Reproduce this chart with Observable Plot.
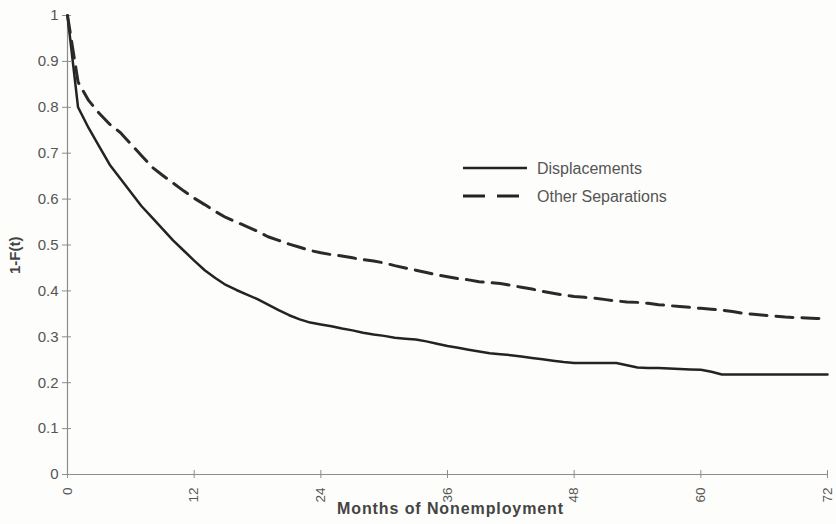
<!DOCTYPE html>
<html>
<head>
<meta charset="utf-8">
<script src="https://cdn.jsdelivr.net/npm/d3@7"></script>
<script src="https://cdn.jsdelivr.net/npm/@observablehq/plot@0.6"></script>
<style>
  html, body { margin: 0; padding: 0; background: #fdfdfb; }
  #chart { position: relative; width: 836px; height: 524px; }
</style>
</head>
<body>
<div id="chart"></div>
<script>
// Months of nonemployment
const months = [0,1,2,3,4,5,6,7,8,9,10,11,12,13,14,15,16,17,18,19,20,21,22,23,24,25,26,27,28,29,30,31,32,33,34,35,36,37,38,39,40,41,42,43,44,45,46,47,48,49,50,51,52,53,54,55,56,57,58,59,60,61,62,63,64,65,66,67,68,69,70,71,72];

// 1-F(t) for Displacements (solid)
const displacements = [1.0,0.80,0.755,0.715,0.675,0.645,0.615,0.585,0.56,0.535,0.51,0.488,0.466,0.445,0.428,0.413,0.402,0.392,0.382,0.37,0.358,0.347,0.338,0.331,0.327,0.323,0.318,0.314,0.309,0.305,0.302,0.298,0.296,0.294,0.29,0.285,0.28,0.276,0.272,0.268,0.264,0.262,0.26,0.257,0.254,0.251,0.248,0.245,0.243,0.243,0.243,0.243,0.243,0.238,0.233,0.232,0.232,0.231,0.23,0.229,0.228,0.224,0.218,0.218,0.218,0.218,0.218,0.218,0.218,0.218,0.218,0.218,0.218];

// 1-F(t) for Other Separations (dashed)
const otherSeparations = [1.0,0.855,0.815,0.787,0.763,0.745,0.72,0.695,0.67,0.652,0.635,0.618,0.602,0.588,0.573,0.56,0.55,0.54,0.53,0.518,0.51,0.502,0.495,0.488,0.483,0.479,0.476,0.472,0.468,0.465,0.461,0.455,0.45,0.445,0.44,0.435,0.431,0.427,0.424,0.42,0.418,0.416,0.412,0.408,0.404,0.399,0.395,0.391,0.388,0.386,0.384,0.381,0.378,0.376,0.375,0.373,0.37,0.368,0.366,0.364,0.362,0.36,0.358,0.355,0.351,0.349,0.347,0.345,0.343,0.342,0.341,0.34,0.339];

const seriesNames = ["Displacements", "Other Separations"];
const xTicks = [0, 12, 24, 36, 48, 60, 72];
const yTicks = [0, 0.1, 0.2, 0.3, 0.4, 0.5, 0.6, 0.7, 0.8, 0.9, 1];
const yTickLabels = ["0", "0.1", "0.2", "0.3", "0.4", "0.5", "0.6", "0.7", "0.8", "0.9", "1"];
const xTitle = "Months of Nonemployment";
const yTitle = "1-F(t)";

const dispData = months.map((m, i) => ({month: m, value: displacements[i]}));
const otherData = months.map((m, i) => ({month: m, value: otherSeparations[i]}));

const font = "'Liberation Sans', Arial, Helvetica, sans-serif";
const axisColor = "#8c8c8c";
const textColor = "#555";

const chart = Plot.plot({
  width: 836,
  height: 524,
  marginLeft: 67,
  marginRight: 9,
  marginTop: 15,
  marginBottom: 50,
  style: {background: "#fdfdfb", fontFamily: font, color: textColor, overflow: "visible"},
  x: {domain: [0, 72]},
  y: {domain: [0, 1]},
  marks: [
    Plot.ruleX([0], {stroke: axisColor, strokeWidth: 1.2}),
    Plot.ruleY([0], {stroke: axisColor, strokeWidth: 1.2}),
    Plot.axisY({
      ticks: yTicks, tickSize: 9, dx: 4, tickPadding: 4,
      tickFormat: d => yTickLabels[yTicks.indexOf(d)],
      fontSize: 15, stroke: axisColor, fill: textColor, label: null
    }),
    Plot.axisX({
      ticks: xTicks, tickSize: 8, dy: -4, tickPadding: 9, tickRotate: -90,
      tickFormat: d => String(d),
      fontSize: 13.5, stroke: axisColor, fill: textColor, label: null
    }),
    Plot.line(dispData, {x: "month", y: "value", stroke: "#232323", strokeWidth: 2.5}),
    Plot.line(otherData, {x: "month", y: "value", stroke: "#2a2a2a", strokeWidth: 3, strokeDasharray: "17,9"}),
    Plot.text([yTitle], {text: d => d, frameAnchor: "left", rotate: -90, dx: -52, dy: 29, fontSize: 15, fontWeight: "bold", fill: "#444"}),
    Plot.text([xTitle], {text: d => d, frameAnchor: "bottom", dx: 3, dy: 39, fontSize: 16, fontWeight: "bold", fill: "#444"})
  ]
});

document.getElementById("chart").appendChild(chart);

// letter spacing for x-axis title
d3.select(chart).selectAll("text").filter(function() { return this.textContent === xTitle; })
  .style("letter-spacing", "0.9px");

// Legend
const svg = d3.select(chart);
const legend = svg.append("g")
  .style("font-family", font).style("font-size", "16px")
  .attr("fill", textColor).attr("text-anchor", "start");
const legendRows = [
  {name: seriesNames[0], dash: null, width: 2.5},
  {name: seriesNames[1], dash: "22,12", width: 3}
];
legendRows.forEach((r, i) => {
  const y = 168 + i * 28;
  legend.append("line")
    .attr("x1", 463).attr("x2", 527).attr("y1", y).attr("y2", y)
    .attr("stroke", "#232323").attr("stroke-width", r.width)
    .attr("stroke-dasharray", r.dash);
  legend.append("text").attr("x", 537).attr("y", y).attr("dy", "0.35em")
    .style("text-anchor", "start").style("font-size", "16px").text(r.name);
});
</script>
</body>
</html>
